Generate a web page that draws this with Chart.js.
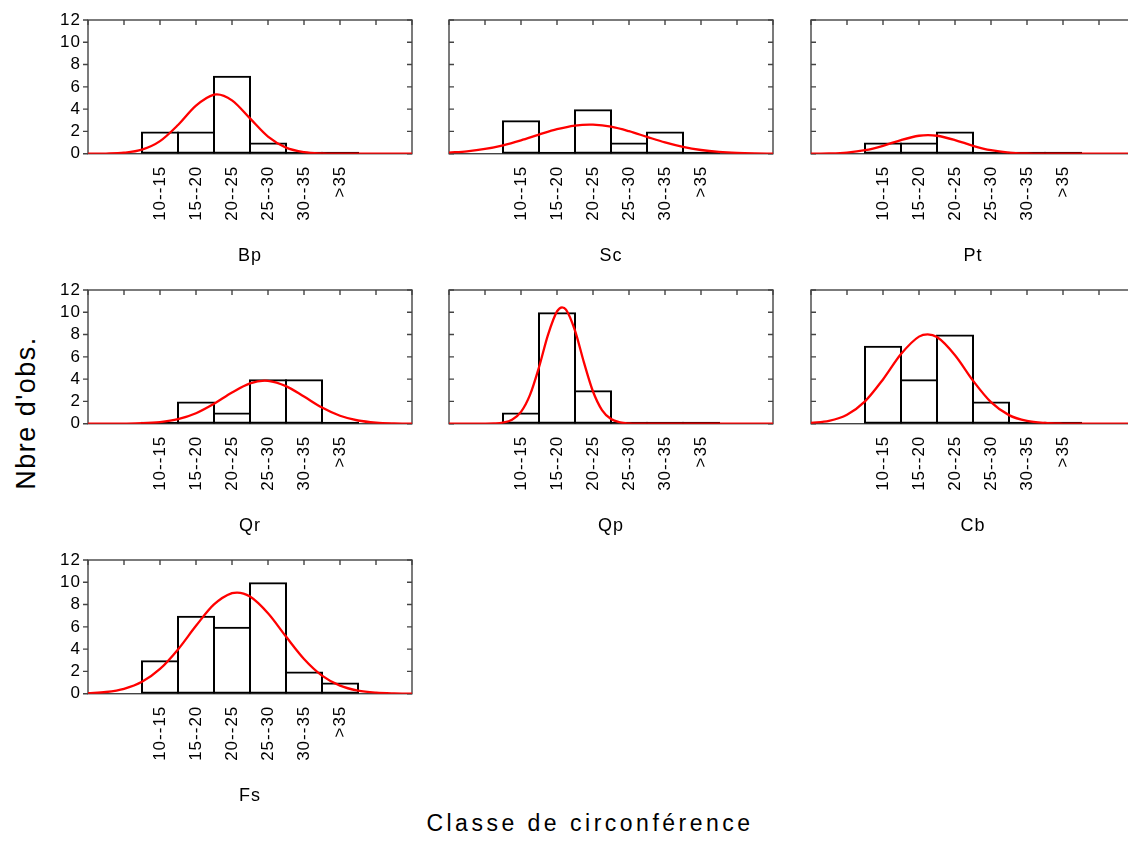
<!DOCTYPE html>
<html><head><meta charset="utf-8">
<script src="https://cdn.jsdelivr.net/npm/chart.js@4"></script>
<style>
html,body{margin:0;padding:0;background:#fff;width:1128px;height:850px;overflow:hidden;position:relative;}
canvas{position:absolute;}
.t{position:absolute;font-family:"Liberation Sans",Arial,sans-serif;color:#000;white-space:nowrap;line-height:1;}
#ylab{left:26px;top:413px;font-size:27px;letter-spacing:1.5px;transform:translate(-50%,-50%) rotate(-90deg);}
#xlab{left:590px;top:823px;font-size:23px;letter-spacing:3.5px;transform:translate(-50%,-50%);}
</style></head><body>
<div id="ylab" class="t">Nbre d'obs.</div>
<div id="xlab" class="t">Classe de circonférence</div>
<script>
// ---- data ----
const categories = ['10--15','15--20','20--25','25--30','30--35','>35'];
const panelNames = ['Bp','Sc','Pt','Qr','Qp','Cb','Fs'];
const yTickValues = [0,2,4,6,8,10,12];

const countsBp = [2,2,7,1,0,0];
const countsSc = [3,0,4,1,2,0];
const countsPt = [1,1,2,0,0,0];
const countsQr = [0,2,1,4,4,0];
const countsQp = [1,10,3,0,0,0];
const countsCb = [7,4,8,2,0,0];
const countsFs = [3,7,6,10,2,1];

// fitted normal curves (x in class-index units, 0 = first class)
const curveBpX = [-2,-1.5,-1,-0.5,0,0.5,1,1.5,1.58,2,2.5,3,3.5,4,4.5,5,5.5,6,6.5,7];
const curveBpY = [0.002,0.015,0.085,0.363,1.128,2.577,4.319,5.308,5.331,4.787,3.166,1.537,0.547,0.143,0.027,0.004,0,0,0,0];
const curveScX = [-2,-1.5,-1,-0.5,0,0.5,1,1.5,1.9,2,2.5,3,3.5,4,4.5,5,5.5,6,6.5,7];
const curveScY = [0.099,0.217,0.428,0.757,1.203,1.717,2.199,2.529,2.618,2.612,2.423,2.017,1.509,1.013,0.611,0.331,0.161,0.070,0.028,0.010];
const curvePtX = [-2,-1.5,-1,-0.5,0,0.5,1,1.25,1.5,2,2.5,3,3.5,4,4.5,5,5.5,6,6.5,7];
const curvePtY = [0.005,0.027,0.105,0.314,0.711,1.226,1.611,1.667,1.611,1.226,0.711,0.314,0.105,0.027,0.005,0.001,0,0,0,0];
const curveQrX = [-2,-1.5,-1,-0.5,0,0.5,1,1.5,2,2.5,2.91,3,3.5,4,4.5,5,5.5,6,6.5,7];
const curveQrY = [0,0.002,0.010,0.043,0.146,0.408,0.942,1.790,2.804,3.620,3.862,3.850,3.373,2.436,1.449,0.710,0.287,0.095,0.026,0.006];
const curveQpX = [-2,-1.5,-1,-0.75,-0.5,-0.25,0,0.25,0.5,0.75,1,1.14,1.25,1.5,1.75,2,2.25,2.5,2.75,3,3.25,3.5,4,4.5,5,5.5,6,6.5,7];
const curveQpY = [0,0,0.003,0.020,0.093,0.350,1.062,2.588,5.067,7.974,10.08,10.448,10.24,8.359,5.483,2.890,1.224,0.416,0.114,0.025,0.004,0.001,0,0,0,0,0,0,0];
const curveCbX = [-2,-1.5,-1,-0.5,0,0.5,1,1.24,1.5,2,2.5,3,3.5,4,4.5,5,5.5,6,6.5,7];
const curveCbY = [0.066,0.258,0.807,2.008,3.972,6.250,7.817,8.023,7.774,6.148,3.865,1.933,0.768,0.243,0.061,0.012,0.002,0,0,0];
const curveFsX = [-2,-1.5,-1,-0.5,0,0.5,1,1.5,2,2.14,2.5,3,3.5,4,4.5,5,5.5,6,6.5,7];
const curveFsY = [0.047,0.154,0.437,1.064,2.221,3.974,6.093,8.010,9.027,9.080,8.722,7.223,5.128,3.121,1.628,0.728,0.279,0.092,0.026,0.006];

const panels = [
  {name: panelNames[0], counts: countsBp, cx: curveBpX, cy: curveBpY},
  {name: panelNames[1], counts: countsSc, cx: curveScX, cy: curveScY},
  {name: panelNames[2], counts: countsPt, cx: curvePtX, cy: curvePtY},
  {name: panelNames[3], counts: countsQr, cx: curveQrX, cy: curveQrY},
  {name: panelNames[4], counts: countsQp, cx: curveQpX, cy: curveQpY},
  {name: panelNames[5], counts: countsCb, cx: curveCbX, cy: curveCbY},
  {name: panelNames[6], counts: countsFs, cx: curveFsX, cy: curveFsY}
];

// ---- layout ----
const FONT = '"Liberation Sans", Arial, sans-serif';
const colLeft = [88.3, 449.3, 810.7];
const rowTop = [20, 290, 560];
const PLOT_W = 324, PLOT_H = 133.7;
const Y_AXIS_W = 60, PAD_TOP = 12, CW = 400, CH = 270;

const spacingPlugin = {
  id: 'spacing',
  beforeUpdate(chart) { chart.ctx.letterSpacing = '1px'; },
  beforeDraw(chart) { chart.ctx.letterSpacing = '1px'; }
};

const framePlugin = {
  id: 'frame',
  beforeDatasetsDraw(chart, args, opts) {
    const {ctx, chartArea: a, scales: {x, y}} = chart;
    ctx.save();
    ctx.strokeStyle = '#444';
    ctx.lineWidth = 1.4;
    ctx.strokeRect(a.left, a.top, a.right - a.left, a.bottom - a.top);
    ctx.beginPath();
    const L = 5;
    x.ticks.forEach(t => {
      const px = x.getPixelForValue(t.value);
      ctx.moveTo(px, a.top); ctx.lineTo(px, a.top + L);
    });
    y.ticks.forEach(t => {
      const py = y.getPixelForValue(t.value);
      ctx.moveTo(a.right, py); ctx.lineTo(a.right - L, py);
      ctx.moveTo(a.left, py); ctx.lineTo(opts.outerLeft ? a.left - L : a.left + L, py);
    });
    ctx.stroke();
    ctx.restore();
  }
};

panels.forEach((p, i) => {
  const col = i % 3, row = Math.floor(i / 3);
  const cv = document.createElement('canvas');
  cv.width = CW; cv.height = CH;
  cv.style.left = (colLeft[col] - Y_AXIS_W) + 'px';
  cv.style.top = (rowTop[row] - PAD_TOP) + 'px';
  document.body.appendChild(cv);
  new Chart(cv, {
    type: 'bar',
    data: {
      datasets: [
        {
          type: 'line', order: 0,
          data: p.cx.map((xv, k) => ({x: xv, y: p.cy[k]})),
          borderColor: '#ff0000', borderWidth: 2.3, pointRadius: 0,
          cubicInterpolationMode: 'monotone', fill: false
        },
        {
          type: 'bar', order: 1,
          data: p.counts.map((v, k) => ({x: k, y: v})),
          backgroundColor: 'rgba(0,0,0,0)', borderColor: '#000', borderWidth: 2,
          borderSkipped: false, barPercentage: 38 / 36, categoryPercentage: 1,
          minBarLength: 2, inflateAmount: 0
        }
      ]
    },
    options: {
      responsive: false, animation: false, devicePixelRatio: 1,
      layout: {padding: {top: PAD_TOP, left: 0, right: CW - Y_AXIS_W - PLOT_W, bottom: 0}},
      plugins: {legend: {display: false}, tooltip: {enabled: false}, frame: {outerLeft: col === 0}},
      scales: {
        x: {
          type: 'linear', min: -2, max: 7, offset: false,
          grid: {display: false, drawTicks: false}, border: {display: false},
          ticks: {
            stepSize: 1, autoSkip: false, maxRotation: 90, minRotation: 90, padding: 12,
            color: '#000', font: {family: FONT, size: 17},
            callback: v => (categories[v] !== undefined ? categories[v] : '')
          },
          title: {display: true, text: p.name, color: '#000', font: {family: FONT, size: 18}, padding: {top: 0, bottom: 11}},
          afterFit: s => { s.height = CH - PAD_TOP - PLOT_H; s.paddingLeft = 0; s.paddingRight = 0; }
        },
        y: {
          min: 0, max: 12,
          grid: {display: false, drawTicks: false}, border: {display: false},
          afterBuildTicks: s => { s.ticks = yTickValues.map(v => ({value: v})); },
          ticks: {display: col === 0, autoSkip: false, padding: 7, color: '#000', font: {family: FONT, size: 17}},
          afterFit: s => { s.width = Y_AXIS_W; s.paddingTop = 0; s.paddingBottom = 0; }
        }
      }
    },
    plugins: [spacingPlugin, framePlugin]
  });
});
</script>
</body></html>
